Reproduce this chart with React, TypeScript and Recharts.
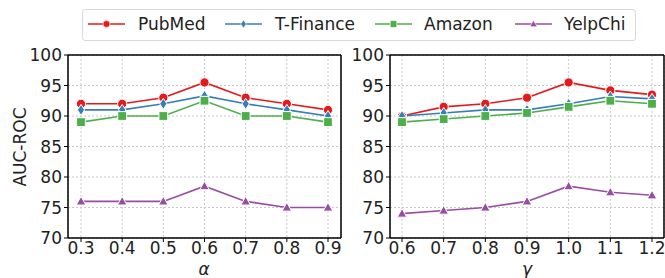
import React from 'react';
import { LineChart, Line, XAxis, YAxis, CartesianGrid } from 'recharts';

const alphaCats = ['0.3', '0.4', '0.5', '0.6', '0.7', '0.8', '0.9'];
const gammaCats = ['0.6', '0.7', '0.8', '0.9', '1.0', '1.1', '1.2'];

const alphaPubMed = [92, 92, 93, 95.5, 93, 92, 91];
const alphaTFinance = [91, 91, 92, 93.3, 92, 91, 90];
const alphaAmazon = [89, 90, 90, 92.5, 90, 90, 89];
const alphaYelpChi = [76, 76, 76, 78.5, 76, 75, 75];

const gammaPubMed = [90, 91.5, 92, 93, 95.5, 94.2, 93.5];
const gammaTFinance = [90, 90.5, 91, 91, 92, 93.2, 92.8];
const gammaAmazon = [89, 89.5, 90, 90.5, 91.5, 92.5, 92];
const gammaYelpChi = [74, 74.5, 75, 76, 78.5, 77.5, 77];

const yTicks = [70, 75, 80, 85, 90, 95, 100];

const series = [
  { key: 'PubMed', color: '#e41a1c', shape: 'circle' },
  { key: 'T-Finance', color: '#377eb8', shape: 'diamond' },
  { key: 'Amazon', color: '#4daf4a', shape: 'square' },
  { key: 'YelpChi', color: '#984ea3', shape: 'triangle' },
];

const FONT = '"DejaVu Sans", sans-serif';

function Marker({ shape, color, cx, cy, scale = 1, edge = 1 }: any) {
  const s = scale;
  if (shape === 'circle') return <circle cx={cx} cy={cy} r={4.6 * s} fill={color} stroke="#fff" strokeWidth={edge} />;
  if (shape === 'square') return <rect x={cx - 4.4 * s} y={cy - 4.4 * s} width={8.8 * s} height={8.8 * s} fill={color} stroke="#fff" strokeWidth={edge} />;
  if (shape === 'diamond')
    return (
      <polygon
        points={`${cx},${cy - 5.5 * s} ${cx + 3.6 * s},${cy} ${cx},${cy + 5.5 * s} ${cx - 3.6 * s},${cy}`}
        fill={color}
        stroke="#fff"
        strokeWidth={edge}
      />
    );
  return (
    <polygon
      points={`${cx},${cy - 5 * s} ${cx + 4.8 * s},${cy + 3.6 * s} ${cx - 4.8 * s},${cy + 3.6 * s}`}
      fill={color}
      stroke="#fff"
      strokeWidth={edge}
    />
  );
}

const makeDot = (shape: string, color: string) => (props: any) => {
  const { cx, cy, index } = props;
  if (cx == null || cy == null) return <g key={`d-${index}`} />;
  return (
    <g key={`d-${shape}-${index}`}>
      <Marker shape={shape} color={color} cx={cx} cy={cy} />
    </g>
  );
};

function buildData(cats: string[], vals: number[][]) {
  return cats.map((c, i) => ({
    x: c,
    PubMed: vals[0][i],
    'T-Finance': vals[1][i],
    Amazon: vals[2][i],
    YelpChi: vals[3][i],
  }));
}

const alphaData = buildData(alphaCats, [alphaPubMed, alphaTFinance, alphaAmazon, alphaYelpChi]);
const gammaData = buildData(gammaCats, [gammaPubMed, gammaTFinance, gammaAmazon, gammaYelpChi]);

const tickStyle = { fill: '#222', fontSize: 17, fontFamily: FONT };

function Panel({ data, width, marginLeft, padX }: any) {
  return (
    <LineChart
      width={width}
      height={278}
      data={data}
      margin={{ top: 54, right: 0, bottom: 10, left: marginLeft }}
    >
      <CartesianGrid stroke="#c8c8c8" strokeDasharray="2 2" />
      <XAxis
        dataKey="x"
        xAxisId={0}
        height={30}
        padding={{ left: padX, right: padX }}
        tick={tickStyle}
        tickSize={4}
        tickMargin={0}
        axisLine={{ stroke: '#000', strokeWidth: 1.5 }}
        tickLine={{ stroke: '#000' }}
        interval={0}
      />
      <XAxis
        dataKey="x"
        xAxisId="top"
        orientation="top"
        height={1}
        padding={{ left: padX, right: padX }}
        tick={false}
        tickLine={false}
        axisLine={{ stroke: '#000', strokeWidth: 1.5 }}
      />
      <YAxis
        yAxisId={0}
        width={40}
        domain={[70, 100]}
        ticks={yTicks}
        tick={tickStyle}
        tickSize={4}
        tickMargin={2}
        axisLine={{ stroke: '#000', strokeWidth: 1.5 }}
        tickLine={{ stroke: '#000' }}
        interval={0}
      />
      <YAxis
        yAxisId="right"
        orientation="right"
        width={1}
        domain={[70, 100]}
        tick={false}
        tickLine={false}
        axisLine={{ stroke: '#000', strokeWidth: 1.5 }}
      />
      {series.map((s) => (
        <Line
          key={s.key}
          xAxisId={0}
          yAxisId={0}
          dataKey={s.key}
          stroke={s.color}
          strokeWidth={1.6}
          dot={makeDot(s.shape, s.color)}
          activeDot={false}
          isAnimationActive={false}
        />
      ))}
    </LineChart>
  );
}

const legendItems = [
  { ...series[0], iconX: 88, textX: 138 },
  { ...series[1], iconX: 225, textX: 275 },
  { ...series[2], iconX: 375, textX: 424 },
  { ...series[3], iconX: 515, textX: 564 },
];

export default function App() {
  return (
    <div style={{ position: 'absolute', left: 0, top: 0, width: 665, height: 278, background: '#fff', overflow: 'hidden', fontFamily: FONT }}>
      <div style={{ position: 'absolute', left: 0, top: 0 }}>
        <Panel data={alphaData} width={342} marginLeft={28} padX={13} />
      </div>
      <div style={{ position: 'absolute', left: 342, top: 0 }}>
        <Panel data={gammaData} width={323} marginLeft={8} padX={12} />
      </div>
      <div
        style={{
          position: 'absolute',
          left: 82,
          top: 9,
          width: 554,
          height: 32,
          border: '1px solid #d9d9d9',
          borderRadius: 3,
          background: '#fff',
          boxSizing: 'border-box',
        }}
      />
      {legendItems.map((it) => (
        <React.Fragment key={it.key}>
          <svg style={{ position: 'absolute', left: it.iconX, top: 16 }} width={38} height={16}>
            <line x1={0} y1={8} x2={37} y2={8} stroke={it.color} strokeWidth={1.6} />
            <Marker shape={it.shape} color={it.color} cx={18.5} cy={8} scale={0.75} edge={0.6} />
          </svg>
          <div style={{ position: 'absolute', left: it.textX, top: 13, fontSize: 17, lineHeight: '22px', color: '#222', whiteSpace: 'nowrap' }}>
            {it.key}
          </div>
        </React.Fragment>
      ))}
      <div
        style={{
          position: 'absolute',
          left: 20,
          top: 147,
          transform: 'translate(-50%, -50%) rotate(-90deg)',
          fontSize: 17,
          color: '#222',
          whiteSpace: 'nowrap',
        }}
      >
        AUC-ROC
      </div>
      <div style={{ position: 'absolute', left: 204, top: 269, transform: 'translate(-50%, -50%)', fontSize: 17, lineHeight: '12px', fontStyle: 'italic', color: '#222' }}>
        α
      </div>
      <div style={{ position: 'absolute', left: 527, top: 269, transform: 'translate(-50%, -50%)', fontSize: 17, lineHeight: '12px', fontStyle: 'italic', color: '#222' }}>
        γ
      </div>
    </div>
  );
}
